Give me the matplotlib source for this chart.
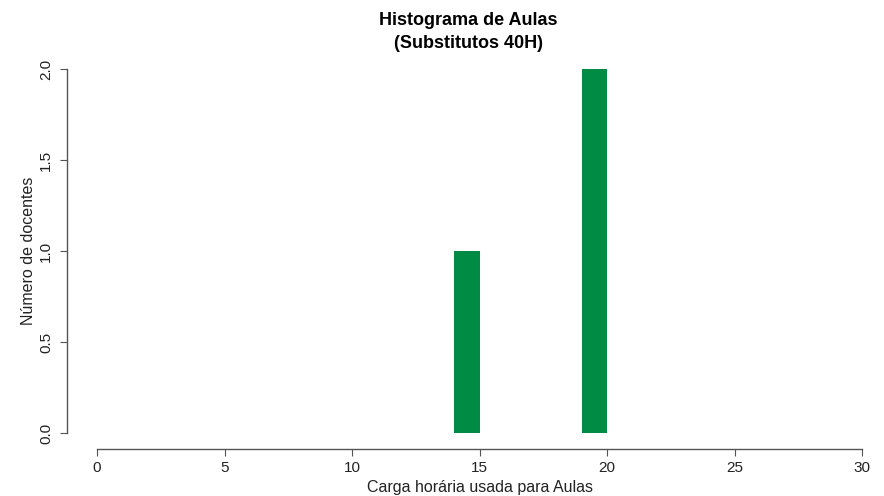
import matplotlib.pyplot as plt

plt.rcParams['font.family'] = ['Liberation Sans', 'DejaVu Sans']

# histogram bins (left edge) and counts
bin_left = [14, 19]
bin_width = 1
counts = [1, 2]
x_ticks = [0, 5, 10, 15, 20, 25, 30]
y_ticks = [0.0, 0.5, 1.0, 1.5, 2.0]

fig = plt.figure(figsize=(8.84, 4.96), dpi=100)
ax = fig.add_axes([97/884, 1 - 433/496, (862 - 97)/884, (433 - 69)/496])

ax.bar(bin_left, counts, width=bin_width, align='edge', color='#008B45', edgecolor='none')

ax.set_xlim(0, 30)
ax.set_ylim(0, 2)
ax.set_xticks(x_ticks)
ax.set_xticklabels([str(t) for t in x_ticks])
ax.set_yticks(y_ticks)
ax.set_yticklabels(['%.1f' % t for t in y_ticks])

for s in ['top', 'right']:
    ax.spines[s].set_visible(False)
ax.spines['bottom'].set_position(('outward', 11.5))
ax.spines['left'].set_position(('outward', 21.6))
for s in ['bottom', 'left']:
    ax.spines[s].set_color('#555555')
    ax.spines[s].set_linewidth(1.0)
ax.tick_params(colors='#555555', labelcolor='#222222', labelsize=11, length=5)
ax.tick_params(axis='y', labelrotation=90, pad=5)
for lbl in ax.get_yticklabels():
    lbl.set_va('center')

ax.set_xlabel('Carga horária usada para Aulas', fontsize=11.5, color='#222222', labelpad=4)
ax.set_ylabel('Número de docentes', fontsize=11.5, color='#222222', labelpad=2)
ax.set_title('Histograma de Aulas\n(Substitutos 40H)', fontsize=13, fontweight='bold',
             pad=15, x=0.485, linespacing=1.45)

fig.savefig('out.png', dpi=100)
